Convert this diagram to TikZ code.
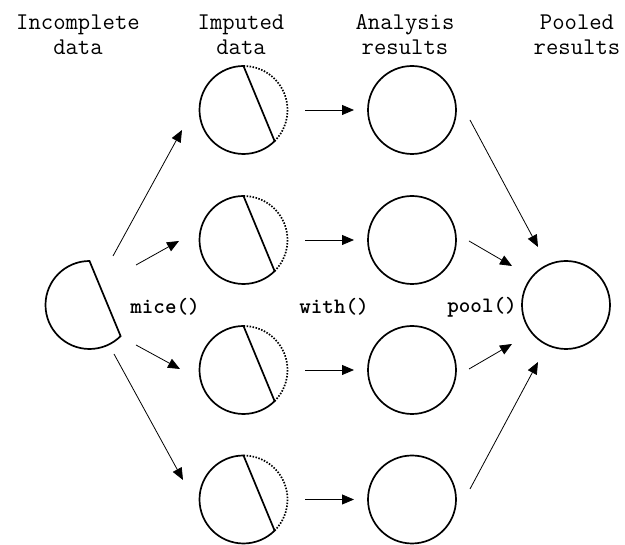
\documentclass[tikz,border=0pt]{standalone}
\usepackage{fontspec}
\usetikzlibrary{arrows.meta,calc}
\begin{document}
\begin{tikzpicture}[x=1pt,y=1pt,
  ring/.style={line width=1.7pt},
  dotarc/.style={line width=1.7pt,dash pattern=on 1.5pt off 1.5pt},
  conn/.style={line width=0.8pt,-{Triangle[length=12pt,width=10pt]}},
  head/.style={align=center,font=\ttfamily\fontsize{24}{25}\selectfont},
  fn/.style={font=\ttfamily\bfseries\fontsize{22}{22}\selectfont}]
\useasboundingbox (0,0) rectangle (625,545);
% centres (y = 545 - pixel row)
\coordinate (inc) at (89.5,240);
\foreach \i/\y in {1/435,2/305,3/175,4/45.5}{
  \coordinate (imp\i) at (243.5,\y);
  \coordinate (ana\i) at (412,\y);
}
\coordinate (pool) at (566,240);
% incomplete data: half disc
\draw[ring] ($(inc)+(90:44)$) arc[start angle=90,end angle=315,radius=44] -- cycle;
% imputed data
\foreach \i in {1,...,4}{
  \draw[ring] ($(imp\i)+(90:44)$) arc[start angle=90,end angle=315,radius=44] -- cycle;
  \draw[dotarc] ($(imp\i)+(-45:44)$) arc[start angle=-45,end angle=90,radius=44];
  \node[draw,circle,ring,minimum size=88pt,inner sep=0pt] (A\i) at (ana\i) {};
}
\node[draw,circle,ring,minimum size=88pt,inner sep=0pt] (P) at (pool) {};
% arrow end points
\coordinate (l1s) at (113,289); \coordinate (l1e) at (182,415);
\coordinate (l2s) at (136,280); \coordinate (l2e) at (179,304);
\coordinate (l3s) at (136,200); \coordinate (l3e) at (180,176);
\coordinate (l4s) at (114,191); \coordinate (l4e) at (183,65);
\foreach \i in {1,...,4}{
  \draw[conn] ($(imp\i)+(61.5,0)$) coordinate (m\i s) -- ($(imp\i)+(110.5,0)$) coordinate (m\i e);
}
\coordinate (r1s) at (470,425); \coordinate (r1e) at (538,298);
\coordinate (r2s) at (469,304); \coordinate (r2e) at (512,279);
\coordinate (r3s) at (469,176); \coordinate (r3e) at (512,201);
\coordinate (r4s) at (470,56);  \coordinate (r4e) at (538,183);
\foreach \a in {l1,l2,l3,l4,r1,r2,r3,r4}{
  \draw[conn] (\a s) -- (\a e);
}
% labels
\node[fn] (mice) at (165,238) {mice()};
\node[fn] (with) at (334,238) {with()};
\node[fn] (poolfn) at (482,238) {pool()};
\node[head] (h1) at (78,510) {Incomplete\\data};
\node[head] (h2) at (241,510) {Imputed\\data};
\node[head] (h3) at (405,510) {Analysis\\results};
\node[head] (h4) at (577,510) {Pooled\\results};
\end{tikzpicture}
\end{document}
